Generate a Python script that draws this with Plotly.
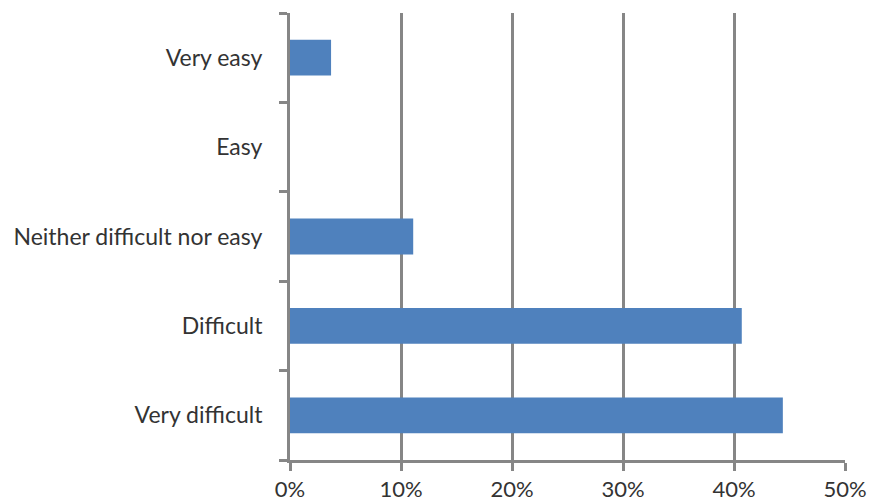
import plotly.graph_objects as go

categories = ["Very difficult", "Difficult", "Neither difficult nor easy", "Easy", "Very easy"]
values = [44.4, 40.7, 11.1, 0.0, 3.7]
x_ticks = [0, 10, 20, 30, 40, 50]
x_tick_labels = ["0%", "10%", "20%", "30%", "40%", "50%"]

grey = "#868686"

fig = go.Figure(go.Bar(
    x=values, y=categories, orientation="h",
    marker=dict(color="#4F81BD", line=dict(width=0)),
))

fig.update_layout(
    width=871, height=502,
    margin=dict(l=290, r=26, t=13, b=42),
    paper_bgcolor="white", plot_bgcolor="white",
    bargap=0.6,
    showlegend=False,
    font=dict(family="Lato", size=23, color="#333333"),
)
fig.update_xaxes(
    range=[0, 50], tickvals=x_ticks, ticktext=x_tick_labels,
    tickfont=dict(size=22),
    showgrid=True, gridcolor=grey, gridwidth=3,
    showline=True, linecolor=grey, linewidth=3,
    ticks="outside", ticklen=8, tickwidth=3, tickcolor=grey,
    ticklabelstandoff=0, zeroline=False, automargin=False,
)
fig.update_yaxes(
    type="category", categoryorder="array", categoryarray=categories,
    showgrid=False, showline=True, linecolor=grey, linewidth=3,
    ticks="outside", ticklen=8, tickwidth=3, tickcolor=grey,
    tickson="boundaries", ticklabelstandoff=20, automargin=False,
)

fig.write_html(
    "out.html",
    config={"displayModeBar": False},
    post_script="document.body.style.margin='0px';document.body.style.overflow='hidden';",
)
